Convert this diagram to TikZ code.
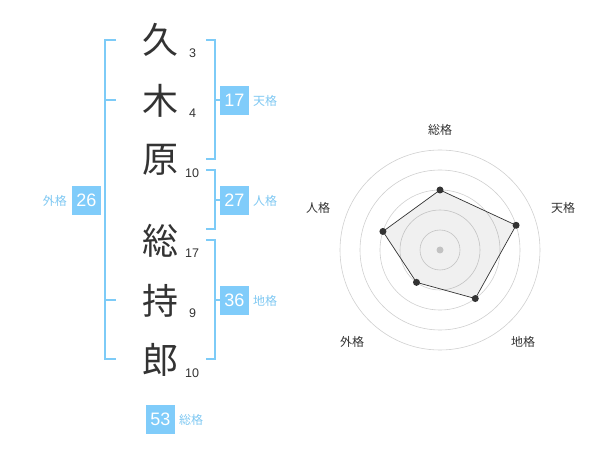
\documentclass[tikz,border=0pt]{standalone}
\usepackage{fontspec}
\setmainfont{Noto Sans CJK JP}
\newfontfamily\digitfont{Liberation Sans}
\usetikzlibrary{calc}
\definecolor{br}{HTML}{7DCBF7}
\definecolor{bx}{HTML}{80CCFA}
\definecolor{lb}{HTML}{7FC8F2}
\definecolor{ink}{HTML}{333333}
\definecolor{ring}{HTML}{CFCFCF}
\tikzset{
  kanji/.style={text=ink,font=\fontsize{36}{36}\selectfont,inner sep=0pt},
  stroke/.style={text=ink,font=\digitfont\fontsize{12.5}{12.5}\selectfont,inner sep=0pt,anchor=west},
  brk/.style={draw=br,line width=1.8pt},
  numbox/.style={fill=bx,text=white,minimum width=29pt,minimum height=29pt,inner sep=0pt,font=\digitfont\fontsize{18}{18}\selectfont},
  lab/.style={text=lb,font=\fontsize{12}{12}\selectfont,inner sep=0pt},
  rlab/.style={text=ink,font=\fontsize{12}{12}\selectfont,inner sep=0pt},
  ringc/.style={draw=ring,line width=0.6pt},
  vdot/.style={circle,fill=ink,inner sep=0pt,minimum size=7pt},
}
\begin{document}
\begin{tikzpicture}[x=1pt,y=-1pt]
\useasboundingbox (0,0) rectangle (600,470);
% kanji
\node[kanji] (k1) at (160,40) {久};
\node[kanji] (k2) at (160,101) {木};
\node[kanji] (k3) at (160,160) {原};
\node[kanji] (k4) at (160,241) {総};
\node[kanji] (k5) at (160,301) {持};
\node[kanji] (k6) at (160,360) {郎};
% stroke counts
\node[stroke] (s1) at (189,53) {3};
\node[stroke] (s2) at (189,113) {4};
\node[stroke] (s3) at (185,173) {10};
\node[stroke] (s4) at (185,253) {17};
\node[stroke] (s5) at (189,313) {9};
\node[stroke] (s6) at (185,373) {10};
% left bracket
\draw[brk] (116,40) -- (105,40) -- (105,359) -- (116,359);
\draw[brk] (105,100) -- (116,100);
\draw[brk] (105,300) -- (116,300);
% right brackets
\draw[brk] (206,40) -- (215,40) -- (215,159) -- (206,159);
\draw[brk] (215,100) -- (221,100);
\draw[brk] (206,170) -- (215,170) -- (215,229) -- (206,229);
\draw[brk] (215,200) -- (221,200);
\draw[brk] (206,240) -- (215,240) -- (215,359) -- (206,359);
\draw[brk] (215,300) -- (221,300);
% boxes
\node[numbox] (b1) at (234.5,100.5) {17};
\node[lab,anchor=west] (l1) at (253,101) {天格};
\node[numbox] (b2) at (234.5,200.5) {27};
\node[lab,anchor=west] (l2) at (253,201) {人格};
\node[numbox] (b3) at (234.5,300.5) {36};
\node[lab,anchor=west] (l3) at (253,301) {地格};
\node[numbox] (b4) at (86.5,200.5) {26};
\node[lab,anchor=east] (l4) at (67,201) {外格};
\node[numbox] (b5) at (160.5,419.5) {53};
\node[lab,anchor=west] (l5) at (179,420) {総格};
% radar
\coordinate (c) at (440,250);
\foreach \r in {20,40,60,80,100} \draw[ringc] (c) circle (\r);
\fill[ring] (c) circle (3.5);
\path (c) ++(0,-60) coordinate (pT)
      (c) ++({80*cos(18)},{-80*sin(18)}) coordinate (pH)
      (c) ++({60*cos(54)},{60*sin(54)}) coordinate (pG)
      (c) ++({-40*cos(54)},{40*sin(54)}) coordinate (pS)
      (c) ++({-60*cos(18)},{-60*sin(18)}) coordinate (pJ);
\draw[fill=black,fill opacity=0.06,draw=ink,line width=0.7pt] (pT) -- (pH) -- (pG) -- (pS) -- (pJ) -- cycle;
\foreach \p in {pT,pH,pG,pS,pJ} \node[vdot] at (\p) {};
\node[rlab] (r1) at (440,130) {総格};
\node[rlab] (r2) at (563,208) {天格};
\node[rlab] (r3) at (523,342) {地格};
\node[rlab] (r4) at (352,342) {外格};
\node[rlab] (r5) at (318,208) {人格};
\end{tikzpicture}
\end{document}
